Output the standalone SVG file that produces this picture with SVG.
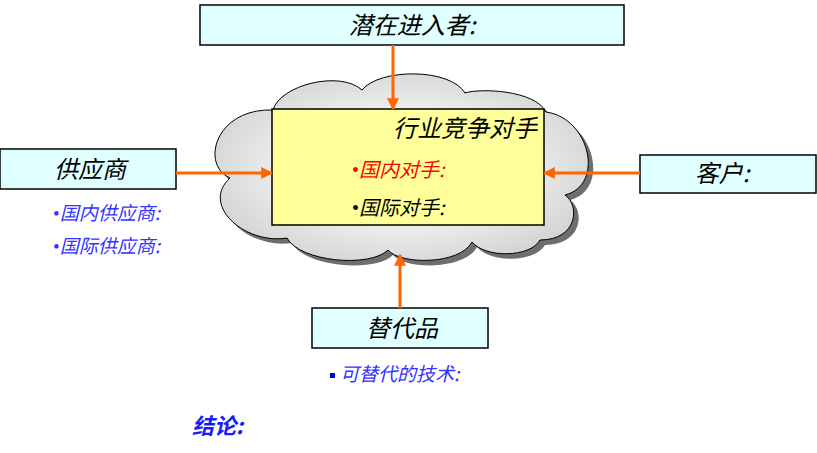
<svg xmlns="http://www.w3.org/2000/svg" width="817" height="453" viewBox="0 0 817 453">
<style>
.box{fill:#e0ffff;stroke:#000;stroke-width:1.5}
.t{font-family:"Noto Sans CJK SC","Noto Sans",sans-serif;font-style:italic}
.big{font-size:24px;fill:#000}
.blue{fill:#3333ff;font-size:19px}
.b{font-family:"Liberation Serif",serif;font-style:normal}
.con{stroke:#ff6600;stroke-width:3;fill:none;marker-end:url(#ah)}
</style>
<defs>
<marker id="ah" viewBox="0 0 10 10" refX="9" refY="5" markerWidth="4" markerHeight="4" orient="auto" markerUnits="strokeWidth">
<path d="M0,0 L10,5 L0,10 Z" fill="#ff6600"/>
</marker>
<radialGradient id="cg" cx="0.5" cy="0.5" r="0.55">
<stop offset="0" stop-color="#f8f8f8"/>
<stop offset="0.6" stop-color="#ececec"/>
<stop offset="1" stop-color="#d4d4d4"/>
</radialGradient>
<path id="cloudp" d="M273,110 C280,85 340,70 362,90 C380,68 450,68 465,93 C480,88 535,90 546,112 C590,118 605,185 565,195 C580,205 578,240 540,240 C530,258 485,258 472,242 C460,265 400,265 388,250 C370,268 300,262 287,238 C245,245 200,205 230,178 C200,165 215,108 273,110 Z"/>
</defs>
<g id="cloud">
<use href="#cloudp" transform="translate(5,5)" fill="#6e6e6e"/>
<use href="#cloudp" fill="url(#cg)" stroke="#000" stroke-width="1"/>
</g>
<g id="rivals">
<rect x="272" y="109" width="272" height="116" fill="#ffff99" stroke="#000" stroke-width="1.5"/>
<text class="t big" x="537" y="137" text-anchor="end">行业竞争对手</text>
<text class="t" x="352" y="177" font-size="20" fill="#ff0000"><tspan class="b">•</tspan>国内对手:</text>
<text class="t" x="352" y="215" font-size="20" fill="#000"><tspan class="b">•</tspan>国际对手:</text>
</g>
<g id="entrants">
<rect class="box" x="200" y="5" width="424" height="40"/>
<text class="t big" x="412" y="34" text-anchor="middle">潜在进入者:</text>
</g>
<g id="suppliers">
<rect class="box" x="0" y="149" width="176" height="40"/>
<text class="t big" x="90" y="178" text-anchor="middle">供应商</text>
<text class="t blue" x="53" y="220"><tspan class="b">•</tspan>国内供应商:</text>
<text class="t blue" x="53" y="253"><tspan class="b">•</tspan>国际供应商:</text>
</g>
<g id="customers">
<rect class="box" x="640" y="155" width="176" height="38"/>
<text class="t big" x="722" y="182" text-anchor="middle">客户:</text>
</g>
<g id="substitutes">
<rect class="box" x="312" y="308" width="176" height="40"/>
<text class="t big" x="402" y="337" text-anchor="middle">替代品</text>
<rect x="330" y="373" width="5" height="5" fill="#0000cc"/>
<text class="t blue" x="340" y="381">可替代的技术:</text>
</g>
<g id="conclusion">
<text class="t" x="192" y="434" font-size="22" fill="#1a1aff" font-weight="bold">结论:</text>
</g>
<g id="connectors">
<line class="con" x1="393" y1="45" x2="393" y2="109"/>
<line class="con" x1="176" y1="173" x2="272" y2="173"/>
<line class="con" x1="640" y1="173" x2="544" y2="173"/>
<line class="con" x1="400" y1="308" x2="400" y2="255"/>
</g>
</svg>
